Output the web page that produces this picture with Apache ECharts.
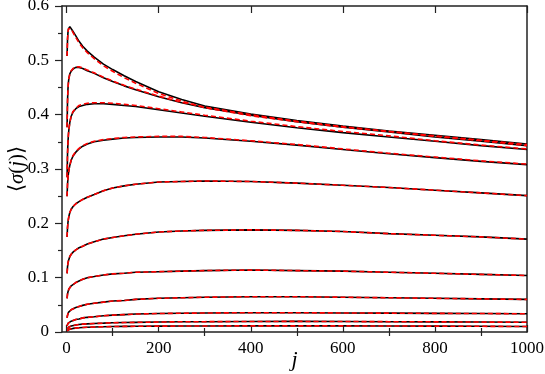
<!DOCTYPE html>
<html>
<head>
<meta charset="utf-8">
<script src="https://cdn.jsdelivr.net/npm/echarts@6/dist/echarts.min.js"></script>
<style>
  html, body { margin: 0; padding: 0; background: #fff; }
  #chart { width: 545px; height: 374px; }
</style>
</head>
<body>
<div id="chart"></div>
<script>
// j 取样点
var jVals = [1, 2, 3, 4, 5, 7, 10, 14, 20, 27, 35, 45, 60, 80, 100, 125, 150, 200, 250, 300, 400, 500, 600, 700, 800, 900, 1000];

// 黑色实线
var curveA = [0.508, 0.538, 0.552, 0.558, 0.561, 0.562, 0.559, 0.553, 0.545, 0.535, 0.526, 0.517, 0.506, 0.493, 0.483, 0.4715, 0.461, 0.442, 0.428, 0.416, 0.401, 0.389, 0.379, 0.370, 0.362, 0.354, 0.346];
var curveB = [0.377, 0.425, 0.448, 0.460, 0.467, 0.475, 0.480, 0.484, 0.487, 0.487, 0.485, 0.481, 0.476, 0.468, 0.461, 0.453, 0.446, 0.433, 0.422, 0.413, 0.399, 0.387, 0.377, 0.368, 0.359, 0.351, 0.343];
var curveC = [0.285, 0.328, 0.350, 0.364, 0.373, 0.386, 0.397, 0.405, 0.411, 0.415, 0.417, 0.419, 0.420, 0.420, 0.419, 0.417, 0.415, 0.409, 0.403, 0.397, 0.386, 0.376, 0.367, 0.359, 0.351, 0.343, 0.336];
var curveD = [0.250, 0.272, 0.284, 0.292, 0.298, 0.307, 0.316, 0.324, 0.331, 0.337, 0.342, 0.346, 0.350, 0.353, 0.355, 0.357, 0.358, 0.359, 0.359, 0.357, 0.351, 0.344, 0.336, 0.328, 0.321, 0.314, 0.308];
var curveE = [0.175, 0.192, 0.202, 0.208, 0.213, 0.220, 0.226, 0.231, 0.236, 0.240, 0.244, 0.248, 0.253, 0.260, 0.265, 0.269, 0.272, 0.276, 0.277, 0.278, 0.277, 0.274, 0.270, 0.266, 0.261, 0.256, 0.251];
var curveF = [0.108, 0.120, 0.127, 0.131, 0.134, 0.139, 0.143, 0.147, 0.151, 0.155, 0.158, 0.162, 0.166, 0.171, 0.174, 0.177, 0.180, 0.184, 0.186, 0.187, 0.188, 0.187, 0.185, 0.181, 0.178, 0.175, 0.171];
var curveG = [0.062, 0.070, 0.074, 0.077, 0.079, 0.082, 0.085, 0.088, 0.091, 0.094, 0.097, 0.100, 0.102, 0.105, 0.107, 0.108, 0.110, 0.111, 0.112, 0.113, 0.114, 0.113, 0.112, 0.110, 0.108, 0.106, 0.104];
var curveH = [0.026, 0.031, 0.034, 0.036, 0.037, 0.039, 0.041, 0.043, 0.045, 0.047, 0.049, 0.051, 0.053, 0.055, 0.057, 0.058, 0.060, 0.062, 0.063, 0.064, 0.065, 0.065, 0.064, 0.063, 0.062, 0.061, 0.060];
var curveI = [0.011, 0.014, 0.016, 0.017, 0.018, 0.019, 0.020, 0.021, 0.023, 0.024, 0.026, 0.027, 0.028, 0.030, 0.031, 0.032, 0.033, 0.034, 0.0345, 0.035, 0.0355, 0.0355, 0.035, 0.0347, 0.0343, 0.034, 0.0335];
var curveJ = [0.005, 0.007, 0.008, 0.0088, 0.0093, 0.010, 0.011, 0.012, 0.013, 0.0138, 0.0145, 0.015, 0.0157, 0.0163, 0.017, 0.0174, 0.0178, 0.0184, 0.0188, 0.019, 0.0194, 0.0195, 0.0193, 0.019, 0.0187, 0.0183, 0.018];
var curveK = [0.002, 0.003, 0.0038, 0.0043, 0.0047, 0.0053, 0.006, 0.0066, 0.0072, 0.0078, 0.0083, 0.0088, 0.0093, 0.0097, 0.010, 0.0103, 0.0105, 0.0108, 0.011, 0.0111, 0.0113, 0.0113, 0.0112, 0.011, 0.0108, 0.0105, 0.010];

// 红色虚线（上面几条与黑线略有偏差，其余与黑线重合）
var fitA = [0.508, 0.538, 0.552, 0.558, 0.561, 0.561, 0.558, 0.551, 0.542, 0.532, 0.523, 0.514, 0.503, 0.490, 0.480, 0.468, 0.458, 0.439, 0.425, 0.413, 0.398, 0.387, 0.377, 0.369, 0.361, 0.353, 0.345];
var fitB = [0.377, 0.425, 0.448, 0.460, 0.467, 0.475, 0.481, 0.485, 0.488, 0.488, 0.486, 0.482, 0.477, 0.469, 0.462, 0.454, 0.447, 0.434, 0.423, 0.414, 0.400, 0.388, 0.378, 0.369, 0.360, 0.352, 0.343];
var fitC = [0.285, 0.328, 0.350, 0.364, 0.373, 0.386, 0.398, 0.406, 0.412, 0.417, 0.419, 0.421, 0.422, 0.422, 0.421, 0.419, 0.417, 0.411, 0.405, 0.399, 0.388, 0.378, 0.369, 0.361, 0.352, 0.344, 0.337];
var fitD = [0.250, 0.272, 0.284, 0.292, 0.298, 0.307, 0.317, 0.325, 0.332, 0.338, 0.343, 0.347, 0.351, 0.354, 0.356, 0.358, 0.359, 0.360, 0.360, 0.358, 0.352, 0.345, 0.337, 0.329, 0.322, 0.315, 0.309];

// 刻度
var xMajorTicks = [0, 200, 400, 600, 800, 1000];
var xMinorTicks = [100, 300, 500, 700, 900];

var blackCurves = [curveA, curveB, curveC, curveD, curveE, curveF, curveG, curveH, curveI, curveJ, curveK];
var redCurves = [fitA, fitB, fitC, fitD, curveE, curveF, curveG, curveH, curveI, curveJ, curveK];

var serif = "'Liberation Serif', 'Times New Roman', serif";
var axisColor = '#222';

function pairs(vals) {
  return jVals.map(function (j, i) { return [j, vals[i]]; });
}

var series = [];
blackCurves.forEach(function (c) {
  series.push({
    type: 'line', data: pairs(c), symbol: 'none',
    lineStyle: { color: '#000', width: 1.6 }, z: 2, silent: true
  });
});
redCurves.forEach(function (c) {
  series.push({
    type: 'line', data: pairs(c), symbol: 'none',
    lineStyle: { color: '#ff0000', width: 1.6, type: [5, 3] }, z: 3, silent: true
  });
});

var axisCommon = { type: 'value', min: -10, max: 1000, splitLine: { show: false } };

var chart = echarts.init(document.getElementById('chart'));
var option = {
  animation: false,
  grid: { left: 62, right: 18, top: 6, bottom: 42, outerBoundsMode: 'none' },
  xAxis: [
    Object.assign({}, axisCommon, {
      position: 'bottom',
      name: 'j',
      nameLocation: 'middle',
      nameGap: 17,
      nameMoveOverlap: false,
      nameTextStyle: { fontFamily: serif, fontStyle: 'italic', fontSize: 22, color: '#000' },
      axisLine: { show: true, onZero: false, lineStyle: { color: axisColor, width: 1.5 } },
      axisTick: { show: true, inside: true, length: 7, customValues: xMajorTicks, lineStyle: { color: axisColor, width: 1.2 } },
      axisLabel: {
        show: true, customValues: xMajorTicks, margin: 8, fontFamily: serif, fontSize: 17, color: '#000',
        formatter: function (v) { return String(v); }
      }
    }),
    Object.assign({}, axisCommon, {
      position: 'bottom',
      axisLine: { show: false },
      axisTick: { show: true, inside: true, length: 4, customValues: xMinorTicks, lineStyle: { color: axisColor, width: 1.2 } },
      axisLabel: { show: false }
    }),
    Object.assign({}, axisCommon, {
      position: 'top',
      axisLine: { show: true, onZero: false, lineStyle: { color: axisColor, width: 1.5 } },
      axisTick: { show: true, inside: true, length: 7, customValues: xMajorTicks, lineStyle: { color: axisColor, width: 1.2 } },
      axisLabel: { show: false }
    }),
    Object.assign({}, axisCommon, {
      position: 'top',
      axisLine: { show: false },
      axisTick: { show: true, inside: true, length: 4, customValues: xMinorTicks, lineStyle: { color: axisColor, width: 1.2 } },
      axisLabel: { show: false }
    })
  ],
  yAxis: [
    {
      type: 'value', position: 'left', min: 0, max: 0.6, interval: 0.1,
      name: '⟨{i|σ}({i|j})⟩',
      nameLocation: 'middle',
      nameRotate: 90,
      nameGap: 34,
      nameMoveOverlap: false,
      nameTextStyle: {
        fontFamily: serif, fontSize: 21, color: '#000',
        rich: { i: { fontFamily: serif, fontStyle: 'italic', fontSize: 21, color: '#000' } }
      },
      splitLine: { show: false },
      axisLine: { show: true, onZero: false, lineStyle: { color: axisColor, width: 1.5 } },
      axisTick: { show: true, inside: false, length: 7, lineStyle: { color: axisColor, width: 1.2 } },
      minorTick: { show: true, splitNumber: 2, length: 4, lineStyle: { color: axisColor, width: 1.2 } },
      axisLabel: {
        margin: 13, fontFamily: serif, fontSize: 17, color: '#000',
        formatter: function (v) { return v === 0 ? '0' : v.toFixed(1); }
      }
    },
    {
      type: 'value', position: 'right', min: 0, max: 0.6,
      splitLine: { show: false },
      axisLine: { show: true, onZero: false, lineStyle: { color: axisColor, width: 1.5 } },
      axisTick: { show: false },
      axisLabel: { show: false }
    }
  ],
  series: series
};
chart.setOption(option);
</script>
</body>
</html>
